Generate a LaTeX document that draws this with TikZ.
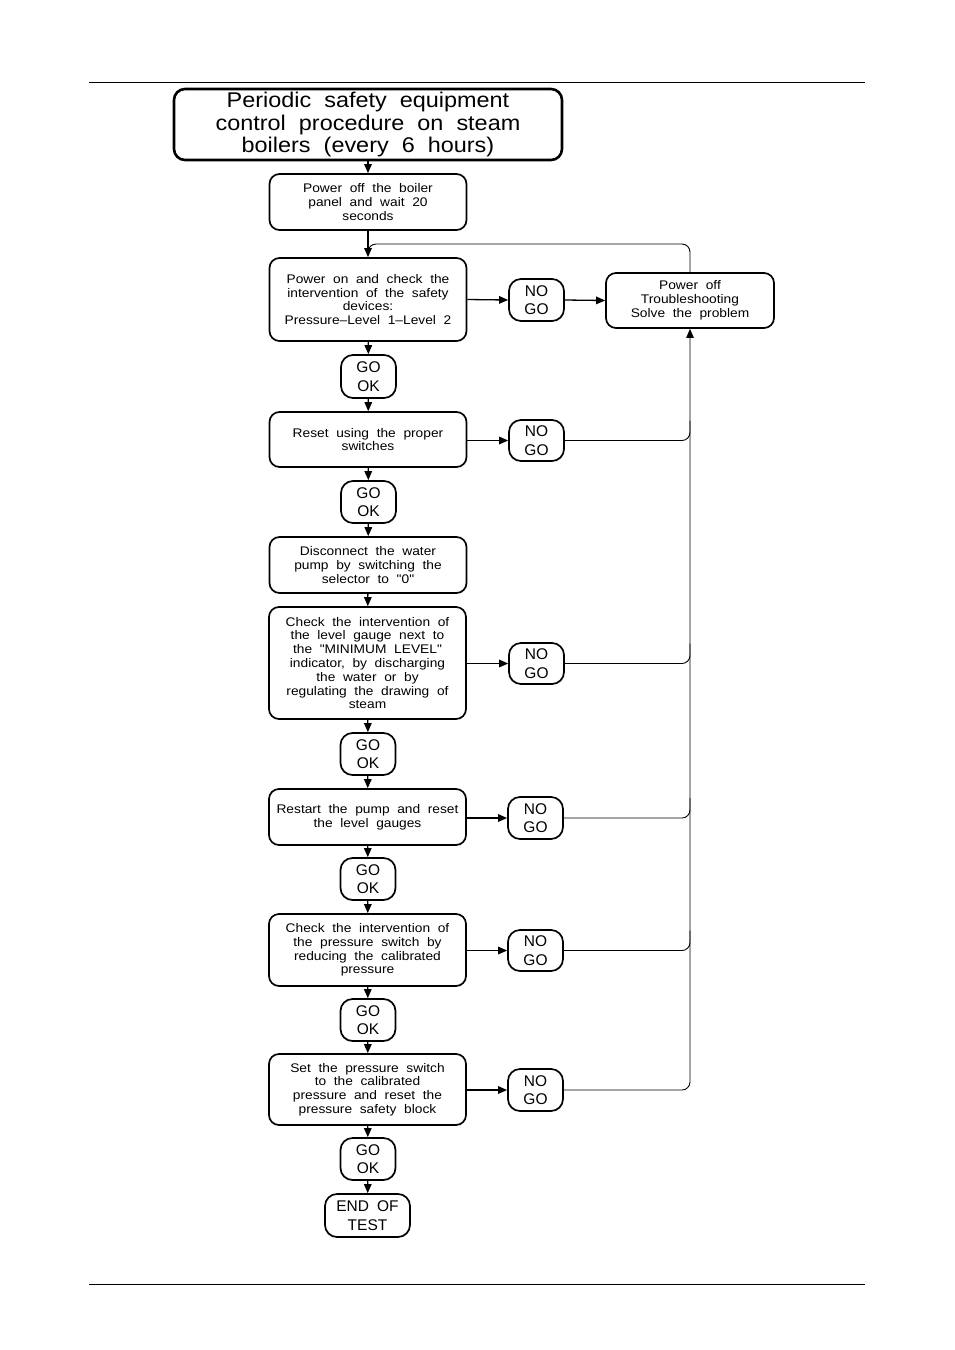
\documentclass[tikz,border=0pt]{standalone}
\usepackage{fontspec}
\setmainfont{Liberation Sans}[WordSpace={1.9}]
\newfontfamily\boxf{Liberation Sans}[FakeStretch=1.1,WordSpace={2.0}]
\usetikzlibrary{arrows.meta,calc}
\begin{document}
\begin{tikzpicture}[x=1pt,y=-1pt,
  box/.style={draw,rounded corners=10pt,line width=1.7pt,align=center,inner sep=0pt,
    minimum width=197pt,font=\boxf\fontsize{12.5}{13.8}\selectfont},
  gobox/.style={draw,rounded corners=12pt,line width=1.7pt,align=center,inner sep=0pt,
    minimum width=55pt,minimum height=42pt,font=\fontsize{15.5}{18.5}\selectfont},
  arr/.style={line width=1.3pt,-{Triangle[length=9pt,width=7.5pt]}},
  thinl/.style={line width=0.9pt,rounded corners=8pt},
  rule/.style={line width=0.8pt}]
\useasboundingbox (0,0) rectangle (954,1350);
\draw[rule] (89,82) -- (865,82);
\draw[rule] (89,1284) -- (865,1284);

\node[draw,rounded corners=11pt,line width=2.6pt,align=center,inner sep=0pt,
  minimum width=388pt,minimum height=71pt,font=\boxf\fontsize{21.3}{22.5}\selectfont]
  (title) at (368,124.5) {Periodic safety equipment\\control procedure on steam\\boilers (every 6 hours)};

\node[box,minimum height=56pt] (b1) at (368,202) {Power off the boiler\\panel and wait 20\\seconds};
\node[box,minimum height=83pt] (b2) at (368,299.5) {Power on and check the\\intervention of the safety\\devices:\\Pressure–Level 1–Level 2};
\node[gobox] (ng1) at (536.5,300) {NO\\GO};
\node[box,minimum width=168pt,minimum height=55pt] (ts) at (690,300.5) {Power off\\Troubleshooting\\Solve the problem};
\node[gobox,minimum height=43pt] (go1) at (368.5,376.5) {GO\\OK};
\node[box,minimum height=55pt] (b3) at (368,439.5) {Reset using the proper\\switches};
\node[gobox,minimum height=41pt] (ng2) at (536.5,440.5) {NO\\GO};
\node[gobox] (go2) at (368.5,502) {GO\\OK};
\node[box,minimum height=56pt] (b4) at (368,565) {Disconnect the water\\pump by switching the\\selector to "0"};
\node[box,minimum height=112pt] (b5) at (367.5,663) {Check the intervention of\\the level gauge next to\\the "MINIMUM LEVEL"\\indicator, by discharging\\the water or by\\regulating the drawing of\\steam};
\node[gobox,minimum height=41pt] (ng3) at (536.5,663.5) {NO\\GO};
\node[gobox] (go3) at (368,754) {GO\\OK};
\node[box,minimum height=56pt] (b6) at (367.5,817) {Restart the pump and reset\\the level gauges};
\node[gobox] (ng4) at (535.5,818) {NO\\GO};
\node[gobox] (go4) at (368,879) {GO\\OK};
\node[box,minimum height=72pt] (b7) at (367.5,950) {Check the intervention of\\the pressure switch by\\reducing the calibrated\\pressure};
\node[gobox,minimum height=41pt] (ng5) at (535.5,950.5) {NO\\GO};
\node[gobox] (go5) at (368,1020) {GO\\OK};
\node[box,minimum height=71pt] (b8) at (367.5,1089.5) {Set the pressure switch\\to the calibrated\\pressure and reset the\\pressure safety block};
\node[gobox] (ng6) at (535.5,1090) {NO\\GO};
\node[gobox] (go6) at (368,1159) {GO\\OK};
\node[gobox,minimum width=85pt,minimum height=43pt] (end) at (367.5,1215.5) {END OF\\TEST};

% main column
\draw[arr] (title) -- (b1);
\draw[arr] (b1) -- (b2);
\draw[arr] (b2) -- (go1);
\draw[arr] (go1) -- (b3);
\draw[arr] (b3) -- (go2);
\draw[arr] (go2) -- (b4);
\draw[arr] (b4) -- (b5);
\draw[arr] (b5) -- (go3);
\draw[arr] (go3) -- (b6);
\draw[arr] (b6) -- (go4);
\draw[arr] (go4) -- (b7);
\draw[arr] (b7) -- (go5);
\draw[arr] (go5) -- (b8);
\draw[arr] (b8) -- (go6);
\draw[arr] (go6) -- (end);

% to NO GO
\draw[arr] (b2.east) -- (ng1.west);
\draw[arr] (ng1.east) -- (ts.west);
\draw[arr] (b3.east |- ng2) -- (ng2.west);
\draw[arr] (b5.east |- ng3) -- (ng3.west);
\draw[arr] (b6.east |- ng4) -- (ng4.west);
\draw[arr] (b7.east |- ng5) -- (ng5.west);
\draw[arr] (b8.east |- ng6) -- (ng6.west);

% loop back
\coordinate (lj) at (368,244);
\draw[thinl] (ts.north) |- (lj) -- ($(lj)+(0,10)$);

% return line
\draw[thinl,-{Triangle[length=9pt,width=7.5pt]}] (ng6.east) -| (ts.south);
\foreach \n in {ng2,ng3,ng4,ng5}{
  \draw[thinl] (\n.east) -| ($(\n.east -| ts.south)+(0,-20)$);
}
\end{tikzpicture}
\end{document}
